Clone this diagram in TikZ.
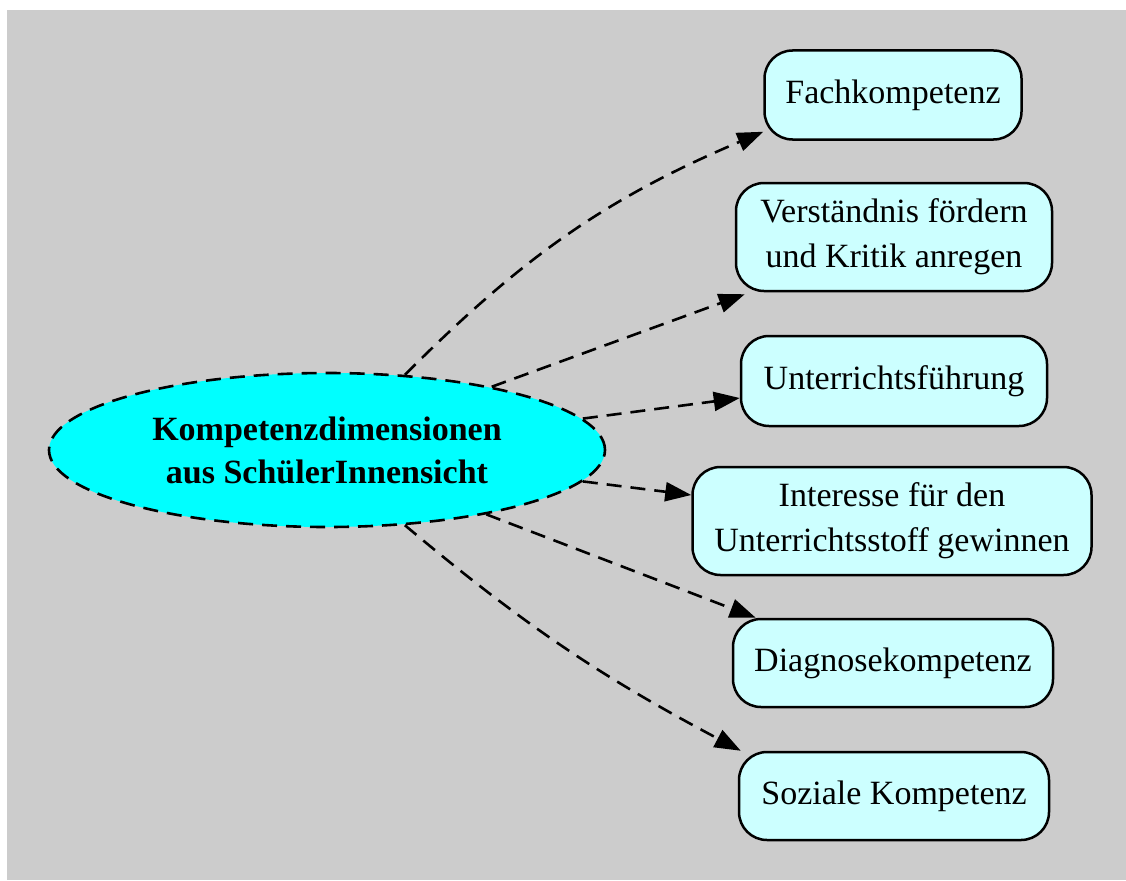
\documentclass[tikz,border=0pt]{standalone}
\usepackage{fontspec}
\setmainfont{Liberation Serif}
\usetikzlibrary{shapes.geometric,arrows.meta}
\definecolor{bggray}{RGB}{204,204,204}
\definecolor{boxfill}{RGB}{204,255,255}
\definecolor{ellfill}{RGB}{0,255,255}
\begin{document}
\begin{tikzpicture}[x=1pt,y=1pt,
  box/.style={draw=black, line width=2.5pt, fill=boxfill, rounded corners=28pt,
    inner sep=0pt, align=center, font=\fontsize{34}{45}\selectfont},
  hub/.style={ellipse, draw=black, dash pattern=on 15pt off 9pt, line width=2.6pt,
    fill=ellfill, inner sep=0pt, align=center, font=\fontsize{34}{43}\selectfont\bfseries},
  link/.style={draw=black, line width=2.6pt, dash pattern=on 15pt off 9pt,
    -{Triangle[length=26pt,width=19pt]}}]
\useasboundingbox (0,0) rectangle (1126,-880);
\fill[bggray] (7,-10) rectangle (1126,-880);

\node[hub, minimum width=556pt, minimum height=154pt] (c) at (327,-450)
  {Kompetenzdimensionen\\aus SchülerInnensicht};

\node[box, minimum width=257pt, minimum height=89pt] (f) at (893,-95) {Fachkompetenz};
\node[box, minimum width=316pt, minimum height=108pt] (v) at (894,-237) {Verständnis fördern\\und Kritik anregen};
\node[box, minimum width=306pt, minimum height=90pt] (u) at (894,-381) {Unterrichtsführung};
\node[box, minimum width=399pt, minimum height=108pt] (i) at (892,-521) {Interesse für den\\Unterrichtsstoff gewinnen};
\node[box, minimum width=320pt, minimum height=88pt] (d) at (893,-663) {Diagnosekompetenz};
\node[box, minimum width=310pt, minimum height=88pt] (s) at (894,-796) {Soziale Kompetenz};

\draw[link] (c.44) to[out=45,in=203] ([yshift=9pt]f.south west);
\draw[link] (c.21.5) -- ([xshift=10pt,yshift=-2pt]v.south west);
\draw[link] (c.7) -- ([yshift=-17pt]u.west);
\draw[link] (c.-7) -- ([yshift=26pt]i.west);
\draw[link] (c.-22) -- ([xshift=24pt]d.north west);
\draw[link] (c.-44) to[out=-40,in=152] ([xshift=3pt]s.north west);
\end{tikzpicture}
\end{document}
